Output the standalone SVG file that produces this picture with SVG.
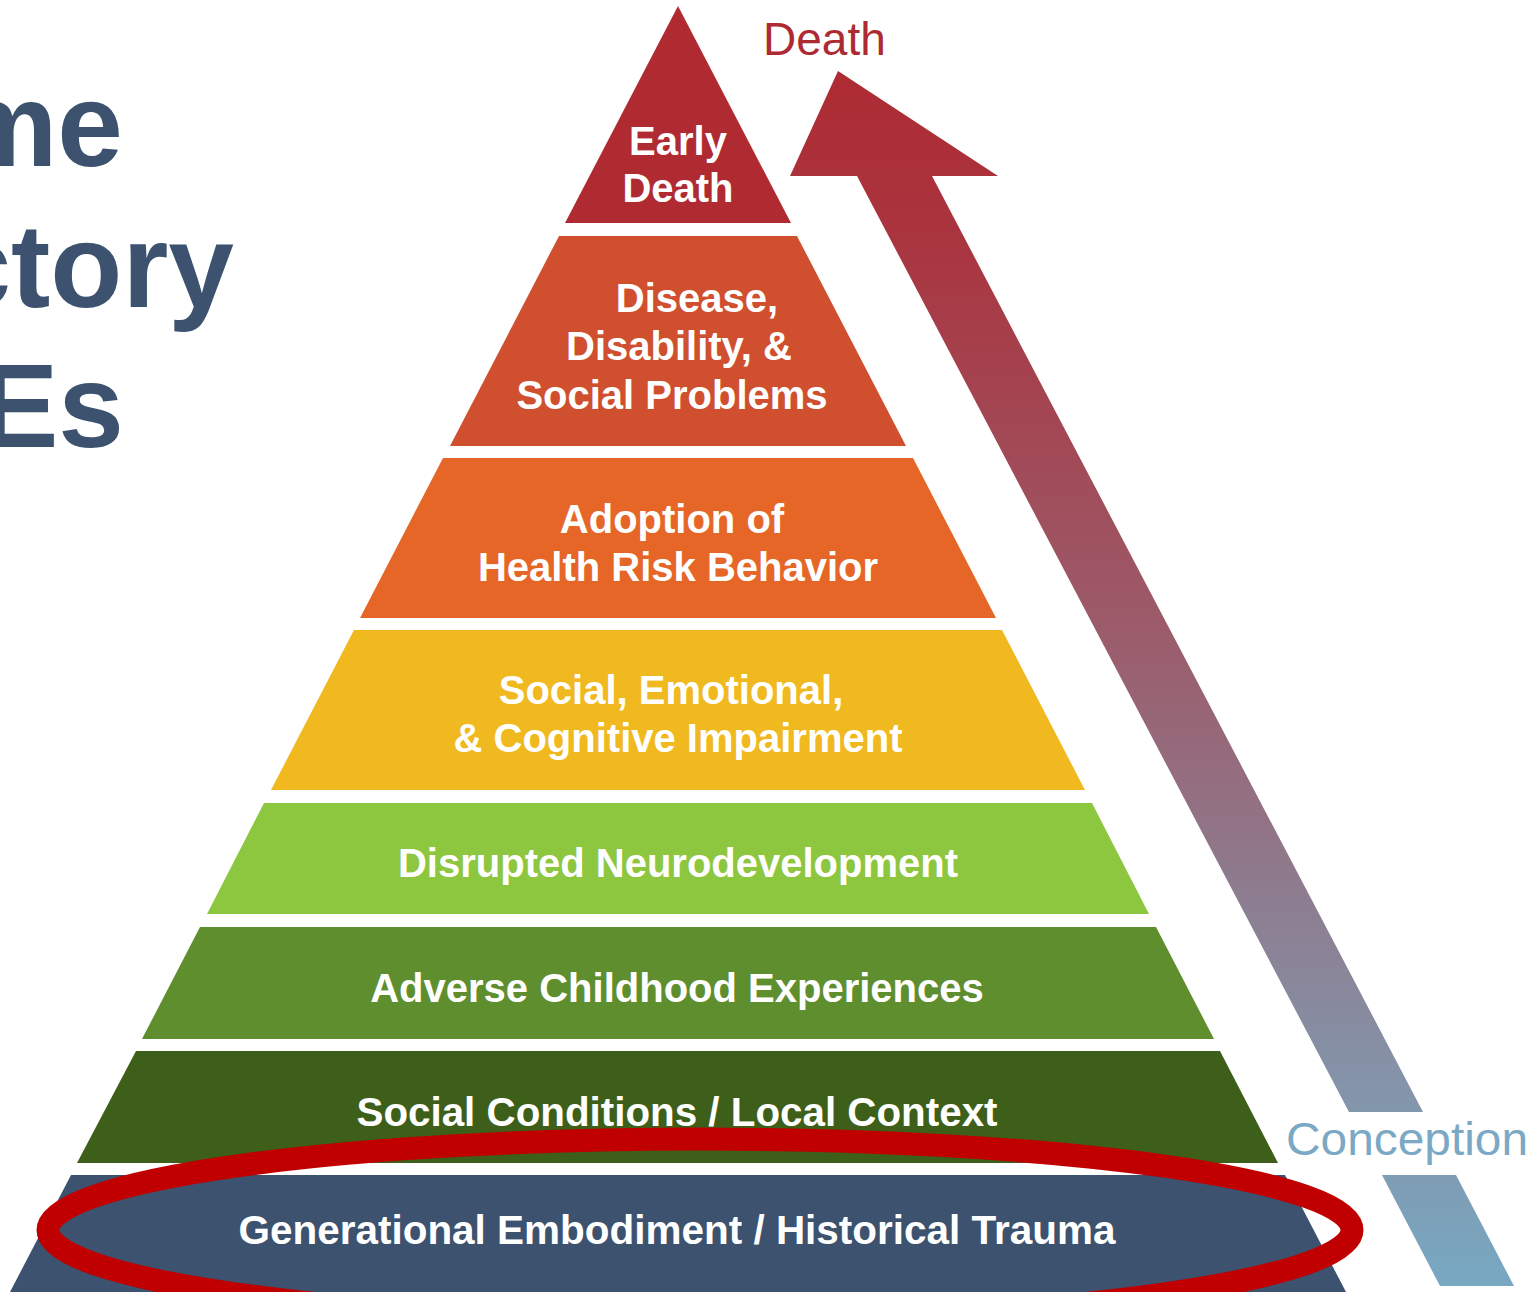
<svg xmlns="http://www.w3.org/2000/svg" width="1537" height="1292" viewBox="0 0 1537 1292">
  <defs>
    <linearGradient id="lifeArrow" gradientUnits="userSpaceOnUse" x1="0" y1="72" x2="0" y2="1286">
      <stop offset="0" stop-color="#AE2B33"/>
      <stop offset="0.12" stop-color="#AA333D"/>
      <stop offset="0.45" stop-color="#9C5A69"/>
      <stop offset="0.85" stop-color="#8396AC"/>
      <stop offset="1" stop-color="#78A8C2"/>
    </linearGradient>
    <style>
      .lbl { font-family: "Liberation Sans", Arial, Helvetica, sans-serif; font-weight: bold; font-size: 40px; fill: #FFFFFF; text-anchor: middle; }
      .title { font-family: "Liberation Sans", Arial, Helvetica, sans-serif; font-weight: bold; font-size: 118px; fill: #3C526F; text-anchor: end; }
      .end { font-family: "Liberation Sans", Arial, Helvetica, sans-serif; font-size: 46px; }
    </style>
  </defs>

  <rect x="0" y="0" width="1537" height="1292" fill="#FFFFFF"/>

  <!-- heading, running off the left edge -->
  <g id="heading">
    <text class="title" x="123" y="166">me</text>
    <text class="title" x="234" y="307">ctory</text>
    <text class="title" x="124" y="447">Es</text>
  </g>

  <!-- pyramid tiers, top to bottom -->
  <g id="tier-early-death">
    <polygon points="678,6 791,223 565,223" fill="#B02A31"/>
    <text class="lbl" x="678" y="155">Early</text>
    <text class="lbl" x="678" y="202">Death</text>
  </g>
  <g id="tier-disease">
    <polygon points="559,236 797,236 906,446 450,446" fill="#CF4F2E"/>
    <text class="lbl" x="697" y="312">Disease,</text>
    <text class="lbl" x="679" y="360">Disability, &amp;</text>
    <text class="lbl" x="672" y="409">Social Problems</text>
  </g>
  <g id="tier-risk-behavior">
    <polygon points="443,458 913,458 996,618 360,618" fill="#E66628"/>
    <text class="lbl" x="672" y="533">Adoption of</text>
    <text class="lbl" x="678" y="581">Health Risk Behavior</text>
  </g>
  <g id="tier-impairment">
    <polygon points="354,630 1002,630 1085,790 271,790" fill="#F0B920"/>
    <text class="lbl" x="671" y="704">Social, Emotional,</text>
    <text class="lbl" x="678" y="752">&amp; Cognitive Impairment</text>
  </g>
  <g id="tier-neurodevelopment">
    <polygon points="264,803 1092,803 1149,914 207,914" fill="#8DC63F"/>
    <text class="lbl" x="678" y="877">Disrupted Neurodevelopment</text>
  </g>
  <g id="tier-aces">
    <polygon points="200,927 1156,927 1214,1039 142,1039" fill="#5F8E2F"/>
    <text class="lbl" x="677" y="1002">Adverse Childhood Experiences</text>
  </g>
  <g id="tier-social-conditions">
    <polygon points="136,1051 1220,1051 1278,1163 77,1163" fill="#3D5F19"/>
    <text class="lbl" x="677" y="1126" textLength="641" lengthAdjust="spacingAndGlyphs">Social Conditions / Local Context</text>
  </g>
  <g id="tier-historical-trauma">
    <polygon points="71,1175 1285,1175 1346,1292 10,1292" fill="#3C526F"/>
    <text class="lbl" x="677" y="1244" textLength="877" lengthAdjust="spacingAndGlyphs">Generational Embodiment / Historical Trauma</text>
  </g>

  <!-- highlight ring around the base tier -->
  <g id="highlight">
    <ellipse cx="700" cy="1230" rx="652" ry="91" fill="none" stroke="#C00000" stroke-width="23"/>
  </g>

  <!-- life-course arrow: conception at the bottom, death at the top -->
  <g id="connectors">
    <polygon points="838,71 998,176 932,176 1423,1112 1349,1112 857,176 790,176" fill="url(#lifeArrow)"/>
    <polygon points="1382,1175 1456,1175 1514,1286 1440,1286" fill="url(#lifeArrow)"/>
  </g>

  <g id="label-death">
    <text class="end" x="763" y="55" fill="#AE2A32">Death</text>
  </g>
  <g id="label-conception">
    <text class="end" x="1286" y="1155" fill="#7BA8C4" textLength="242" lengthAdjust="spacingAndGlyphs">Conception</text>
  </g>
</svg>
